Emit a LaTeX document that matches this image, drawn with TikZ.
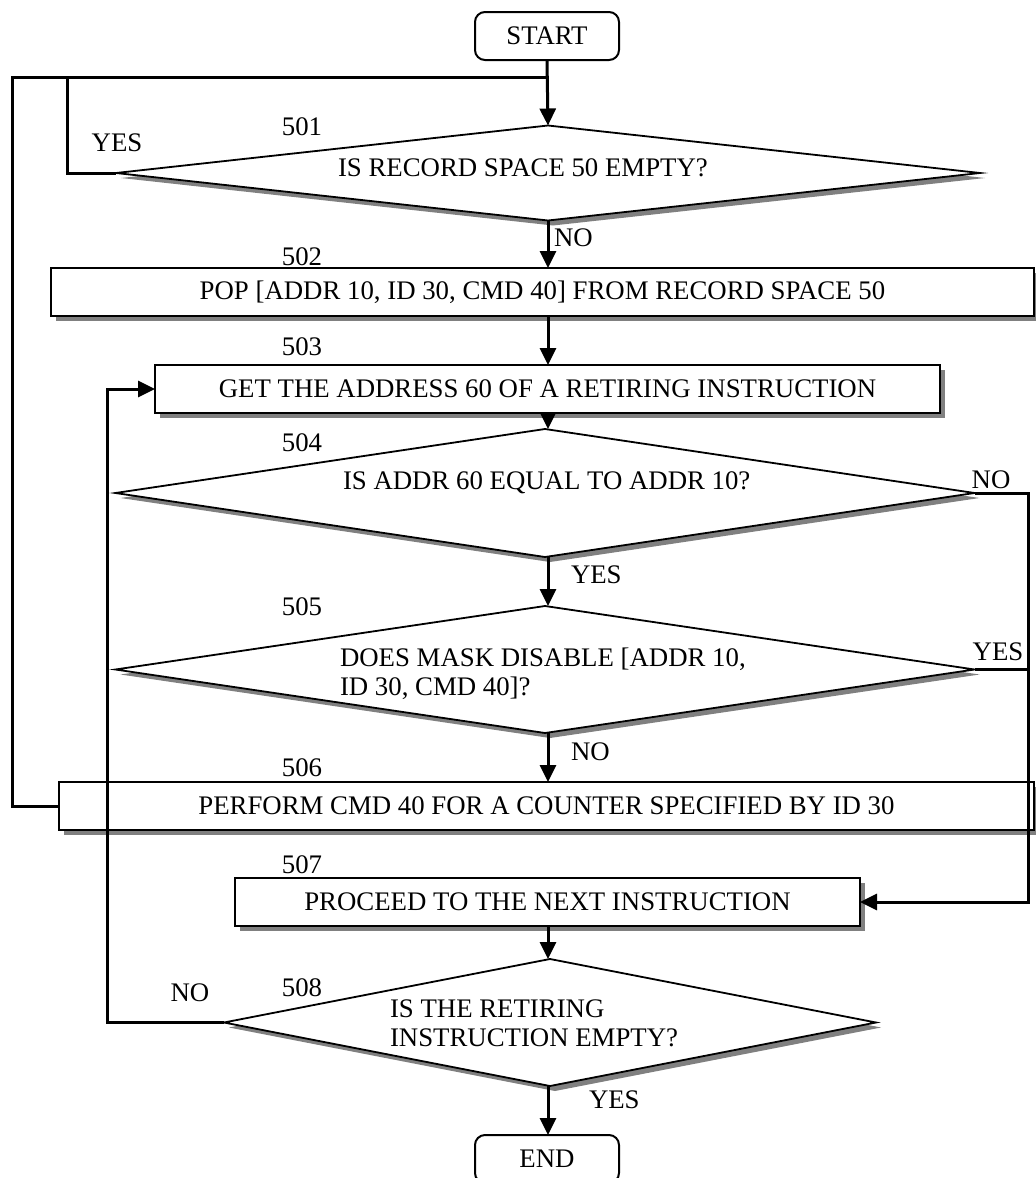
\documentclass[tikz,border=0pt]{standalone}
\usepackage{fontspec}
\setmainfont{Liberation Serif}
\usetikzlibrary{arrows.meta,shapes.geometric,shadows}

\begin{document}
\begin{tikzpicture}[x=1pt,y=-1pt,
  every node/.style={font=\fontsize{26.8}{28.5}\selectfont, inner sep=0pt, outer sep=0pt},
  boxshadow/.style={drop shadow={shadow xshift=5pt,shadow yshift=-5pt,fill=black!50,opacity=1}},
  termbox/.style={draw, line width=2pt, rounded corners=10pt, fill=white,
                  minimum width=144, minimum height=48},
  procbox/.style={draw, line width=2pt, fill=white, minimum height=48, boxshadow},
  decision/.style={diamond, draw, line width=1.8pt, fill=white, boxshadow},
  qtext/.style={align=left},
  tag/.style={},
  answer/.style={},
  wire/.style={line width=3pt},
  flow/.style={line width=3pt, -{Triangle[length=17pt,width=16pt]}}
]
\useasboundingbox (0,0) rectangle (1036,1178);

% terminals
\node[termbox] (start) at (547,36) {START};
\node[termbox] (finish) at (547,1159) {END};

% decisions
\node[decision, minimum width=864, minimum height=95]  (d501) at (548,173) {};
\node[decision, minimum width=859, minimum height=128] (d504) at (545,493) {};
\node[decision, minimum width=859, minimum height=127] (d505) at (545,669.5) {};
\node[decision, minimum width=652, minimum height=127] (d508) at (550,1022.5) {};

% process steps
\node[procbox, minimum width=983] (b502) at (542.5,292) {POP [ADDR 10, ID 30, CMD 40] FROM RECORD SPACE 50};
\node[procbox, minimum width=785] (b503) at (547.5,389) {GET THE ADDRESS 60 OF A RETIRING INSTRUCTION};
\node[procbox, minimum width=975] (b506) at (546.5,806) {PERFORM CMD 40 FOR A COUNTER SPECIFIED BY ID 30};
\node[procbox, minimum width=625] (b507) at (547.5,902) {PROCEED TO THE NEXT INSTRUCTION};

% questions inside the decisions
\node[qtext, anchor=base west] (q501) at (338,176) {IS RECORD SPACE 50 EMPTY?};
\node[qtext, anchor=base west] (q504) at (343,489) {IS ADDR 60 EQUAL TO ADDR 10?};
\node[qtext, anchor=north west] (q505) at (340,648) {DOES MASK DISABLE [ADDR 10,\\ID 30, CMD 40]?};
\node[qtext, anchor=north west] (q508) at (390,1000) {IS THE RETIRING\\INSTRUCTION EMPTY?};

% step numbers
\node[tag] (n501) at (302,127) {501};
\node[tag] (n502) at (302,257) {502};
\node[tag] (n503) at (302,347) {503};
\node[tag] (n504) at (302,443) {504};
\node[tag] (n505) at (302,607) {505};
\node[tag] (n506) at (302,768) {506};
\node[tag] (n507) at (302,865) {507};
\node[tag] (n508) at (302,988) {508};

% branch answers
\node[answer] (a501y) at (117,143) {YES};
\node[answer, anchor=west] (a501n) at (554,238) {NO};
\node[answer] (a504n) at (991,480) {NO};
\node[answer, anchor=west] (a504y) at (571,575) {YES};
\node[answer] (a505y) at (998,652) {YES};
\node[answer, anchor=west] (a505n) at (571,752) {NO};
\node[answer] (a508n) at (190,993) {NO};
\node[answer, anchor=west] (a508y) at (589,1100) {YES};

% corner points of the loops
\coordinate (jtop) at (548,77);
\coordinate (loopL) at (12,77);
\coordinate (loopY) at (67,77);
\coordinate (loopN) at (107,389);
\coordinate (rtop) at (1028,493);
\coordinate (rmid) at (1028,669.5);

% main flow
\draw[flow] (start.south) -- (d501.north);
\draw[flow] (d501.south) -- (b502.north -| d501.south);
\draw[flow] (b502.south -| d501.south) -- (b503.north -| d501.south);
\draw[flow] (b503.south -| d501.south) -- (d504.north -| d501.south);
\draw[flow] (d504.south -| d501.south) -- (d505.north -| d501.south);
\draw[flow] (d505.south -| d501.south) -- (b506.north -| d501.south);
\draw[flow] (b507.south -| d501.south) -- (d508.north -| d501.south);
\draw[flow] (d508.south -| d501.south) -- (finish.north -| d501.south);

% loops
\draw[wire] (d501.west) -| (loopY);
\draw[wire] (b506.west) -| (loopL) -- (jtop);
\draw[flow] (d508.west) -| (loopN) -- (b503.west);
\draw[flow] (d504.east) -- (rtop) |- (b507.east);
\draw[wire] (d505.east) -- (rmid);
\end{tikzpicture}
\end{document}
